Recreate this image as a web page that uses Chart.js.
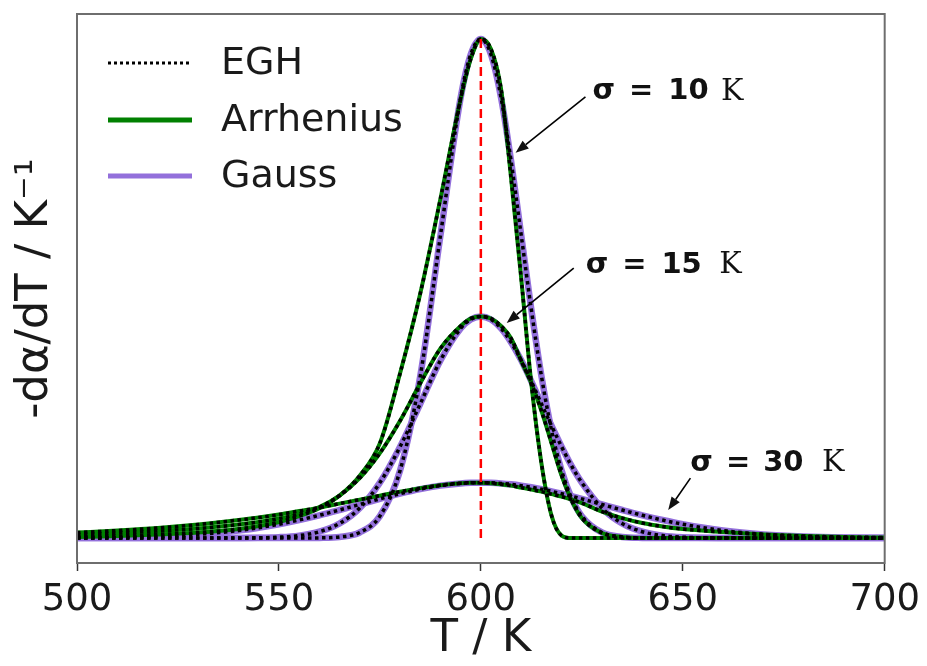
<!DOCTYPE html>
<html>
<head>
<meta charset="utf-8">
<script src="https://cdn.jsdelivr.net/npm/chart.js@4.4.1/dist/chart.umd.min.js"></script>
<style>
  html, body { margin: 0; padding: 0; background: #ffffff; }
  #wrap { width: 927px; height: 666px; }
</style>
</head>
<body>
<div id="wrap"><canvas id="c" width="927" height="666"></canvas></div>
<script>
// ---- data (y in units of the sigma=10 K peak height) ----
const temperature = [500,510,520,530,540,545,550,555,560,565,570,575,580,585,590,595,597.5,600,602.5,605,607.5,610,612.5,615,617.5,620,622.5,625,630,635,640,645,650,660,670,680,690,700];

const gauss10 = [0,0,0,0,0,0,0,0,0.0003,0.0022,0.0111,0.0439,0.1353,0.3247,0.6065,0.8825,0.9692,1.0,0.9692,0.8825,0.7548,0.6065,0.4578,0.3247,0.2163,0.1353,0.0796,0.0439,0.0111,0.0022,0.0003,0,0,0,0,0,0,0];
const gauss15 = [0,0,0,0,0.0002,0.0005,0.0017,0.0049,0.0127,0.0292,0.060,0.111,0.183,0.269,0.356,0.420,0.438,0.444,0.438,0.420,0.392,0.356,0.314,0.269,0.225,0.183,0.144,0.111,0.060,0.0292,0.0127,0.0049,0.0017,0.0002,0,0,0,0];
const gauss30 = [0.0004,0.0012,0.0032,0.0073,0.0150,0.0207,0.0277,0.0361,0.0456,0.0562,0.0673,0.0785,0.0889,0.098,0.105,0.1095,0.1106,0.111,0.1106,0.1095,0.1076,0.105,0.1018,0.098,0.0936,0.0889,0.0838,0.0785,0.0673,0.0562,0.0456,0.0361,0.0277,0.0150,0.0073,0.0032,0.0012,0.0004];

const arrhenius10 = [0.002,0.004,0.007,0.011,0.018,0.024,0.032,0.044,0.060,0.085,0.125,0.19,0.33,0.49,0.68,0.88,0.96,1.0,0.98,0.90,0.72,0.52,0.31,0.15,0.045,0.005,0,0,0,0,0,0,0,0,0,0,0,0];
const arrhenius15 = [0.007,0.010,0.014,0.019,0.027,0.032,0.039,0.048,0.062,0.085,0.12,0.17,0.235,0.31,0.38,0.425,0.44,0.444,0.44,0.425,0.40,0.355,0.31,0.255,0.19,0.125,0.075,0.04,0.01,0.002,0,0,0,0,0,0,0,0];
const arrhenius30 = [0.011,0.015,0.020,0.027,0.036,0.041,0.047,0.054,0.061,0.069,0.077,0.085,0.093,0.100,0.106,0.110,0.111,0.111,0.110,0.108,0.105,0.101,0.097,0.093,0.088,0.083,0.077,0.070,0.053,0.040,0.030,0.023,0.018,0.012,0.007,0.004,0.002,0.001];

// EGH fits overlay every Arrhenius and Gauss curve
const egh = [arrhenius10, arrhenius15, arrhenius30, gauss10, gauss15, gauss30];

const peakT = [600, 600];
const peakLine = [0, 1.0];

const xTicks = [500, 550, 600, 650, 700];
const seriesNames = ['EGH', 'Arrhenius', 'Gauss'];
const sigmaLabels = ['10', '15', '30'];

// ---- helpers ----
function pts(xs, ys) { return xs.map((x, i) => ({ x: x, y: ys[i] })); }

const COL_GREEN = '#008000';
const COL_PURPLE = '#9370DB';
const COL_RED = '#FF0000';

const datasets = [];
datasets.push({ label: 'peak', data: pts(peakT, peakLine), borderColor: COL_RED, borderWidth: 2.5, borderDash: [9, 5], pointRadius: 0, fill: false });
egh.forEach(arr => datasets.push({ label: seriesNames[0], data: pts(temperature, arr), borderColor: '#000000', borderWidth: 3.5, borderDash: [3.5, 3.5], pointRadius: 0, fill: false, cubicInterpolationMode: 'monotone' }));
[arrhenius10, arrhenius15, arrhenius30].forEach(arr => datasets.push({ label: seriesNames[1], data: pts(temperature, arr), borderColor: COL_GREEN, borderWidth: 4, pointRadius: 0, fill: false, cubicInterpolationMode: 'monotone' }));
[gauss10, gauss15, gauss30].forEach(arr => datasets.push({ label: seriesNames[2], data: pts(temperature, arr), borderColor: COL_PURPLE, borderWidth: 6.5, pointRadius: 0, fill: false, cubicInterpolationMode: 'monotone' }));

// annotations: text pieces and arrows in data coordinates
const annotations = [
  { sigma: sigmaLabels[0], textY: 0.894, pos: [627.9, 637.2, 646.9, 659.7], arrow: [[625.9, 0.884], [608.6, 0.772]] },
  { sigma: sigmaLabels[1], textY: 0.547, pos: [626.2, 635.5, 645.2, 659.3], arrow: [[623.0, 0.541], [606.4, 0.431]] },
  { sigma: sigmaLabels[2], textY: 0.150, pos: [652.1, 661.2, 670.4, 684.7], arrow: [[651.9, 0.120], [646.4, 0.056]] }
];

const decorPlugin = {
  id: 'decor',
  afterDatasetsDraw(chart) {
    const ctx = chart.ctx;
    const xs = chart.scales.x, ys = chart.scales.y;
    const ca = chart.chartArea;
    ctx.save();
    // annotations
    annotations.forEach(a => {
      const ty = ys.getPixelForValue(a.textY);
      ctx.fillStyle = '#111';
      ctx.textBaseline = 'middle';
      ctx.textAlign = 'left';
      ctx.font = 'bold 29px "DejaVu Sans"';
      ctx.fillText('σ', xs.getPixelForValue(a.pos[0]) - 1, ty);
      ctx.fillText('=', xs.getPixelForValue(a.pos[1]) - 2, ty);
      ctx.fillText(a.sigma, xs.getPixelForValue(a.pos[2]) - 2, ty);
      ctx.font = '30px "DejaVu Serif"';
      ctx.fillText('K', xs.getPixelForValue(a.pos[3]) - 1, ty);
      // arrow
      const x0 = xs.getPixelForValue(a.arrow[0][0]), y0 = ys.getPixelForValue(a.arrow[0][1]);
      const x1 = xs.getPixelForValue(a.arrow[1][0]), y1 = ys.getPixelForValue(a.arrow[1][1]);
      const ang = Math.atan2(y1 - y0, x1 - x0);
      const hl = 13, hw = 5;
      const bx = x1 - hl * Math.cos(ang), by = y1 - hl * Math.sin(ang);
      ctx.strokeStyle = '#000';
      ctx.lineWidth = 1.6;
      ctx.beginPath(); ctx.moveTo(x0, y0); ctx.lineTo(bx, by); ctx.stroke();
      ctx.beginPath();
      ctx.moveTo(x1, y1);
      ctx.lineTo(bx + hw * Math.sin(ang), by - hw * Math.cos(ang));
      ctx.lineTo(bx - hw * Math.sin(ang), by + hw * Math.cos(ang));
      ctx.closePath(); ctx.fill();
    });
    // legend
    const items = [
      { label: seriesNames[0], color: '#000', width: 3, dash: [3, 3], y: 63 },
      { label: seriesNames[1], color: COL_GREEN, width: 5, dash: [], y: 120 },
      { label: seriesNames[2], color: COL_PURPLE, width: 5, dash: [], y: 176 }
    ];
    items.forEach(it => {
      ctx.strokeStyle = it.color;
      ctx.lineWidth = it.width;
      ctx.setLineDash(it.dash);
      ctx.beginPath(); ctx.moveTo(ca.left + 31, it.y); ctx.lineTo(ca.left + 115, it.y); ctx.stroke();
      ctx.setLineDash([]);
      ctx.fillStyle = '#1a1a1a';
      ctx.font = '38px "DejaVu Sans"';
      ctx.textBaseline = 'middle';
      ctx.fillText(it.label, ca.left + 144, it.y + 1);
    });
    // frame
    ctx.strokeStyle = '#6e6e6e';
    ctx.lineWidth = 2;
    ctx.strokeRect(ca.left, ca.top, ca.right - ca.left, ca.bottom - ca.top);
    ctx.restore();
  }
};

new Chart(document.getElementById('c'), {
  type: 'line',
  data: { datasets: datasets },
  options: {
    responsive: false,
    animation: false,
    devicePixelRatio: 1,
    layout: { padding: { top: 14, right: 40, left: 0, bottom: 0 } },
    plugins: { legend: { display: false }, tooltip: { enabled: false } },
    elements: { line: { borderCapStyle: 'butt' } },
    scales: {
      x: {
        type: 'linear', min: 500, max: 700,
        afterBuildTicks(scale) { scale.ticks = xTicks.map(v => ({ value: v })); },
        afterFit(scale) { scale.height = 103; },
        grid: { display: true, drawOnChartArea: false, drawTicks: true, tickLength: 8, tickColor: '#333', tickWidth: 1.5 },
        border: { display: true, color: '#6e6e6e', width: 2 },
        ticks: { color: '#1a1a1a', font: { family: 'DejaVu Sans', size: 37 }, padding: 7, maxRotation: 0 },
        title: { display: true, text: 'T / K', color: '#1a1a1a', font: { family: 'DejaVu Sans', size: 45 }, padding: { top: 0, bottom: 0 } }
      },
      y: {
        type: 'linear', min: -0.05, max: 1.05,
        afterFit(scale) { scale.width = 77; },
        grid: { display: false, drawTicks: false },
        border: { display: true, color: '#6e6e6e', width: 2 },
        ticks: { display: false },
        title: { display: true, text: '-dα/dT / K⁻¹', color: '#1a1a1a', font: { family: 'DejaVu Sans', size: 45 }, padding: { top: 8, bottom: 0 } }
      }
    }
  },
  plugins: [decorPlugin]
});
</script>
</body>
</html>
